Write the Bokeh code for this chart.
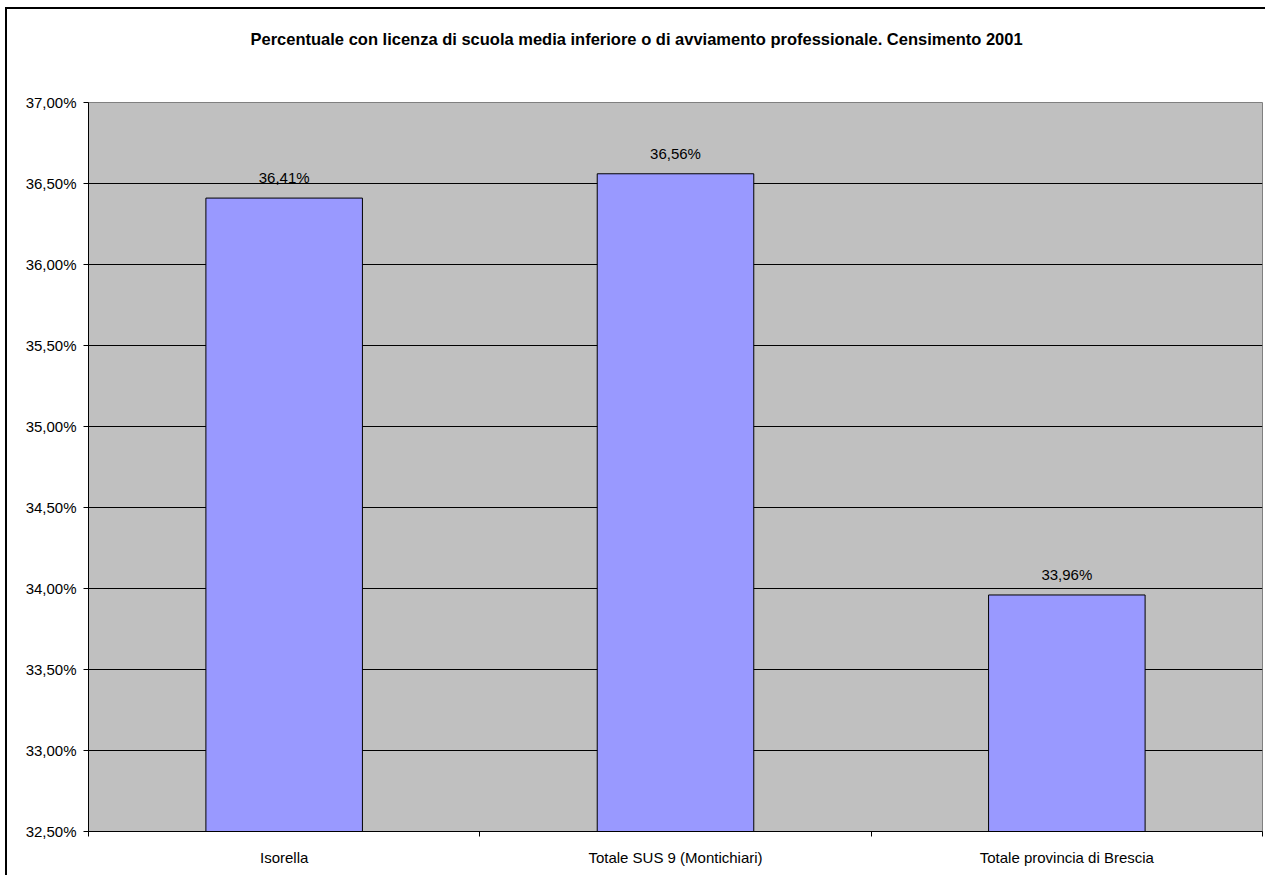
from bokeh.plotting import figure
from bokeh.models import ColumnDataSource, FixedTicker, Range1d, Title
from bokeh.core.properties import value
from bokeh.embed import file_html
from bokeh.resources import INLINE

title_text = "Percentuale con licenza di scuola media inferiore o di avviamento professionale. Censimento 2001"
categories = ["Isorella", "Totale SUS 9 (Montichiari)", "Totale provincia di Brescia"]
values = [36.41, 36.56, 33.96]
y_ticks = [32.5, 33.0, 33.5, 34.0, 34.5, 35.0, 35.5, 36.0, 36.5, 37.0]
y_tick_labels = ["32,50%", "33,00%", "33,50%", "34,00%", "34,50%", "35,00%", "35,50%", "36,00%", "36,50%", "37,00%"]
y_min, y_max = 32.5, 37.0

FONT = "Liberation Sans"

xs = [i + 0.5 for i in range(len(categories))]
labels = [("%.2f" % v).replace(".", ",") + "%" for v in values]
src = ColumnDataSource(dict(x=xs, top=values, label=labels))

p = figure(width=1260, height=868, output_backend="svg", toolbar_location=None,
           x_range=Range1d(0, len(categories)), y_range=Range1d(y_min, y_max),
           min_border_left=81, min_border_right=5, min_border_top=93, min_border_bottom=46)
p.styles = {"box-shadow": "-2px -2px 0 0 #000", "position": "relative",
            "left": "7px", "top": "9px"}

# spacer panel next to the frame, then the chart title above it
p.add_layout(Title(text=" ", text_font_size="10px", standoff=42), "above")
p.add_layout(Title(text=title_text, align="left", offset=162, standoff=0,
                   text_font=FONT, text_font_size="16.5px", text_font_style="bold",
                   text_color="#000000"), "above")

p.background_fill_color = "#C0C0C0"
p.border_fill_color = "#FFFFFF"
p.outline_line_color = "#808080"
p.outline_line_width = 1

p.vbar(x="x", top="top", bottom=y_min, width=0.4, source=src,
       fill_color="#9999FF", line_color="#000000", line_width=1)

p.text(x="x", y="top", text="label", source=src, text_align="center",
       text_baseline="bottom", y_offset=-12, text_font=value(FONT),
       text_font_size="15px", text_color="#000000")

# x axis
p.xaxis.ticker = FixedTicker(ticks=xs, minor_ticks=[0, 1, 2, 3])
p.xaxis.major_label_overrides = {x: c for x, c in zip(xs, categories)}
p.xaxis.major_tick_out = 0
p.xaxis.major_tick_in = 0
p.xaxis.minor_tick_out = 5
p.xaxis.minor_tick_in = 0
p.xaxis.minor_tick_line_color = "#000000"
p.xaxis.axis_line_color = "#000000"
p.xaxis.major_label_standoff = 12
p.xaxis.major_label_text_font = FONT
p.xaxis.major_label_text_font_size = "15px"
p.xaxis.major_label_text_color = "#000000"

# y axis
p.yaxis.ticker = FixedTicker(ticks=y_ticks)
p.yaxis.major_label_overrides = {t_: l for t_, l in zip(y_ticks, y_tick_labels)}
p.yaxis.major_tick_out = 5
p.yaxis.major_tick_in = 0
p.yaxis.minor_tick_out = 0
p.yaxis.minor_tick_in = 0
p.yaxis.major_tick_line_color = "#000000"
p.yaxis.axis_line_color = "#000000"
p.yaxis.major_label_standoff = 7
p.yaxis.major_label_text_font = FONT
p.yaxis.major_label_text_font_size = "15px"
p.yaxis.major_label_text_color = "#000000"

p.xgrid.grid_line_color = None
p.ygrid.grid_line_color = "#000000"
p.ygrid.grid_line_width = 1
p.ygrid.grid_line_alpha = 1.0

open("out.html", "w").write(file_html(p, INLINE))
